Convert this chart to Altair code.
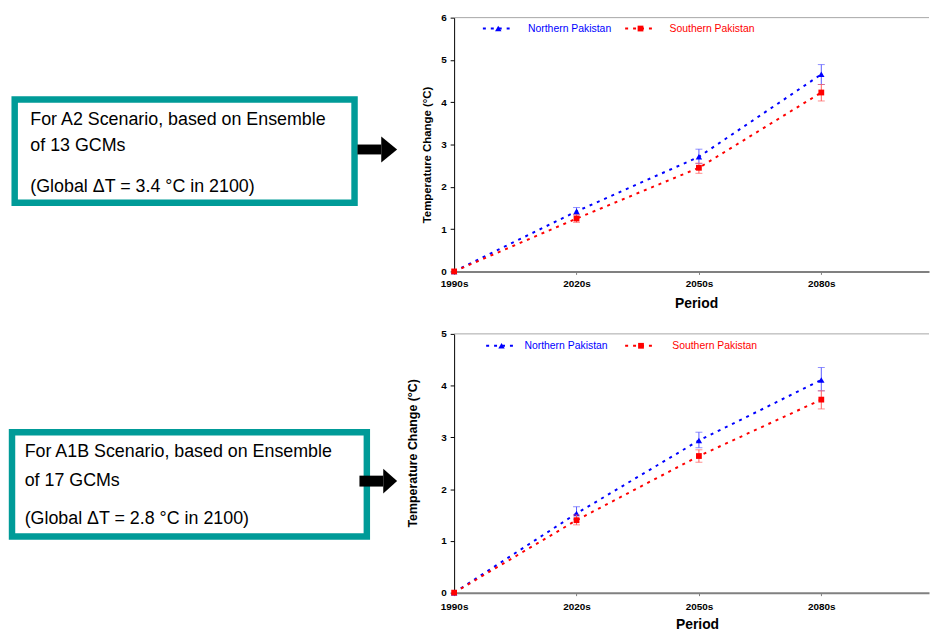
import json
import altair as alt
import pandas as pd

# ---------------- data ----------------
periods = ["1990s", "2020s", "2050s", "2080s"]
series_names = ["Northern Pakistan", "Southern Pakistan"]

# A2 scenario (13 GCMs)
a2_north = [0.0, 1.42, 2.71, 4.66]
a2_north_lo = [0.0, 1.34, 2.55, 4.42]
a2_north_hi = [0.0, 1.51, 2.89, 4.89]
a2_south = [0.0, 1.25, 2.45, 4.23]
a2_south_lo = [0.0, 1.16, 2.32, 4.03]
a2_south_hi = [0.0, 1.34, 2.56, 4.42]

# A1B scenario (17 GCMs)
a1b_north = [0.0, 1.53, 2.94, 4.11]
a1b_north_lo = [0.0, 1.42, 2.80, 3.90]
a1b_north_hi = [0.0, 1.66, 3.10, 4.35]
a1b_south = [0.0, 1.40, 2.64, 3.73]
a1b_south_lo = [0.0, 1.31, 2.52, 3.55]
a1b_south_hi = [0.0, 1.50, 2.76, 3.90]

box_a2_lines = ["For A2 Scenario, based on Ensemble", "of 13 GCMs", "(Global \u0394T = 3.4 \u00b0C in 2100)"]
box_a1b_lines = ["For A1B Scenario, based on Ensemble", "of 17 GCMs", "(Global \u0394T = 2.8 \u00b0C in 2100)"]

y_title = "Temperature Change (\u00b0C)"
x_title = "Period"

# ---------------- styles ----------------
FONT = "Liberation Sans, Arial, sans-serif"
series_colors = ["#0000ff", "#ff0000"]
errbar_colors = ["#5c5cff", "#ff5c5c"]
series_shapes = ["triangle-up", "square"]
series_sizes = [42, 34]
TEAL = "#009b98"
W = 479
XMAX = 3.88
ONE = alt.InlineData(values=[{"k": 0}])


def make_df(north, north_lo, north_hi, south, south_lo, south_hi):
    rows = []
    for name, vals, lo, hi in [
        (series_names[0], north, north_lo, north_hi),
        (series_names[1], south, south_lo, south_hi),
    ]:
        for i, p in enumerate(periods):
            rows.append(dict(series=name, idx=i, period=p, value=vals[i], lo=lo[i], hi=hi[i]))
    return pd.DataFrame(rows)


def panel(df, ymax, H, L, lines):
    label_expr = json.dumps(periods) + "[datum.value]"
    xscale = alt.Scale(domain=[0, XMAX], nice=False, zero=False)
    xaxis = alt.Axis(
        values=[0, 1, 2, 3], labelExpr=label_expr, title=x_title,
        titleX=L["xtx"], titleY=L["xty"], titleBaseline="middle", titleAlign="center",
        titleFont=FONT, titleFontSize=14, titleFontWeight="bold", titleColor="black",
        labelFont=FONT, labelFontSize=10, labelFontWeight="bold", labelColor="black",
        labelPadding=L["xlp"], labelFlush=False, labelOverlap=False,
        domainColor="#808080", domainWidth=2, tickColor="#808080", tickSize=3, grid=False,
    )
    yscale = alt.Scale(domain=[0, ymax], nice=False)
    yaxis = alt.Axis(
        values=list(range(0, ymax + 1)), title=y_title, format="d",
        titleX=L["ytx"], titleY=L["yty"], titleAngle=-90, titleBaseline="middle", titleAlign="center",
        titleFont=FONT, titleFontSize=L["ytfs"], titleFontWeight="bold", titleColor="black",
        labelFont=FONT, labelFontSize=10, labelFontWeight="bold", labelColor="black",
        labelPadding=4, domainColor="black", domainWidth=1, tickColor="black", tickSize=4, grid=False,
    )

    def X():
        return alt.X("idx:Q", scale=xscale, axis=xaxis)

    def Y(field):
        return alt.Y(field, scale=yscale, axis=yaxis)

    layers = []
    # invisible frame fixing the panel's bounds
    layers.append(
        alt.Chart(ONE).mark_rect(opacity=0).encode(
            x=alt.value(L["frame"][0]), x2=alt.value(L["frame"][1]),
            y=alt.value(L["frame"][2]), y2=alt.value(L["frame"][3]))
    )
    # top frame line
    layers.append(
        alt.Chart(ONE).mark_rule(color="#a6a6a6", strokeWidth=1).encode(
            x=alt.value(0), x2=alt.value(W), y=alt.value(0))
    )
    for k in range(2):
        base = alt.Chart().transform_filter(alt.datum.series == series_names[k])
        err = base.transform_filter(alt.datum.idx > 0)
        layers.append(err.mark_rule(color=errbar_colors[k], strokeWidth=1).encode(x=X(), y=Y("lo:Q"), y2="hi:Q"))
        layers.append(err.mark_tick(color=errbar_colors[k], orient="horizontal", size=7, thickness=1).encode(x=X(), y=Y("lo:Q")))
        layers.append(err.mark_tick(color=errbar_colors[k], orient="horizontal", size=7, thickness=1).encode(x=X(), y=Y("hi:Q")))
        layers.append(base.mark_line(color=series_colors[k], strokeDash=[3, 5], strokeWidth=2).encode(x=X(), y=Y("value:Q")))
        layers.append(base.mark_point(shape=series_shapes[k], filled=True, opacity=1, color=series_colors[k],
                                      size=series_sizes[k]).encode(x=X(), y=Y("value:Q")))
    # legend
    for k in range(2):
        lg = L["legend"][k]
        layers.append(alt.Chart(ONE).mark_rule(color=series_colors[k], strokeDash=[3, 5], strokeWidth=2).encode(
            x=alt.value(lg[0]), x2=alt.value(lg[1]), y=alt.value(L["ly"])))
        layers.append(alt.Chart(ONE).mark_point(shape=series_shapes[k], filled=True, opacity=1, color=series_colors[k],
                                                size=series_sizes[k]).encode(x=alt.value(lg[2]), y=alt.value(L["ly"])))
        layers.append(alt.Chart(ONE).mark_text(align="left", baseline="middle", font=FONT, fontSize=10.5,
                                               color=series_colors[k]).encode(
            x=alt.value(lg[3]), y=alt.value(L["ly"]), text=alt.value(series_names[k])))
    # text box
    bx = L["box"]
    layers.append(alt.Chart(ONE).mark_rect(fill="white", stroke=TEAL, strokeWidth=6.5).encode(
        x=alt.value(bx[0]), x2=alt.value(bx[1]), y=alt.value(bx[2]), y2=alt.value(bx[3])))
    for line, yb in zip(lines, L["tys"]):
        layers.append(alt.Chart(ONE).mark_text(align="left", baseline="alphabetic", font=FONT, fontSize=18,
                                               color="black").encode(
            x=alt.value(L["tx"]), y=alt.value(yb), text=alt.value(line)))
    # arrow
    sh = L["shaft"]
    layers.append(alt.Chart(ONE).mark_rect(color="black").encode(
        x=alt.value(sh[0]), x2=alt.value(sh[1]), y=alt.value(sh[2]), y2=alt.value(sh[3])))
    hd = L["head"]
    path = "M-{f},-1L{f},0L-{f},1Z".format(f=hd[3])
    layers.append(alt.Chart(ONE).mark_point(shape=path, filled=True, opacity=1, color="black", strokeWidth=0,
                                            size=hd[2] ** 2).encode(x=alt.value(hd[0]), y=alt.value(hd[1])))

    return alt.layer(*layers, data=df).properties(width=W, height=H)


L_top = dict(
    xtx=244, xty=32, xlp=4, ytx=-27, yty=138, ytfs=11.5,
    frame=(-449, 479.5, -7, 305),
    ly=11,
    legend=[(29, 61, 44.5, 74.5), (172.5, 204, 188, 217.3)],
    box=(-443.25, -100.45, 82.55, 186.75),
    tx=-427.5, tys=[108.3, 135, 175.5],
    shaft=(-97.5, -73.5, 128, 138),
    head=(-65.5, 133, 26, 0.615),
)
L_bot = dict(
    xtx=245, xty=31.7, xlp=6, ytx=-41.5, yty=120, ytfs=12.5,
    frame=(-449, 479.5, -14, 298),
    ly=12,
    legend=[(32.3, 64, 47.8, 70.9), (172.5, 204.5, 188.5, 220)],
    box=(-445.95, -88.05, 99.25, 204.45),
    tx=-433.2, tys=[124, 153, 192],
    shaft=(-95.5, -71.5, 143, 154),
    head=(-64.5, 148.5, 25, 0.56),
)

top = panel(make_df(a2_north, a2_north_lo, a2_north_hi, a2_south, a2_south_lo, a2_south_hi), 6, 256, L_top, box_a2_lines)
bottom = panel(make_df(a1b_north, a1b_north_lo, a1b_north_hi, a1b_south, a1b_south_lo, a1b_south_hi), 5, 261, L_bot, box_a1b_lines)

chart = (
    alt.vconcat(top, bottom, spacing=0)
    .properties(padding={"left": 0, "top": 0, "right": 0, "bottom": 0}, background="white")
    .configure_view(strokeWidth=0)
)

chart.save("out.html", embed_options={"renderer": "svg", "actions": False})
